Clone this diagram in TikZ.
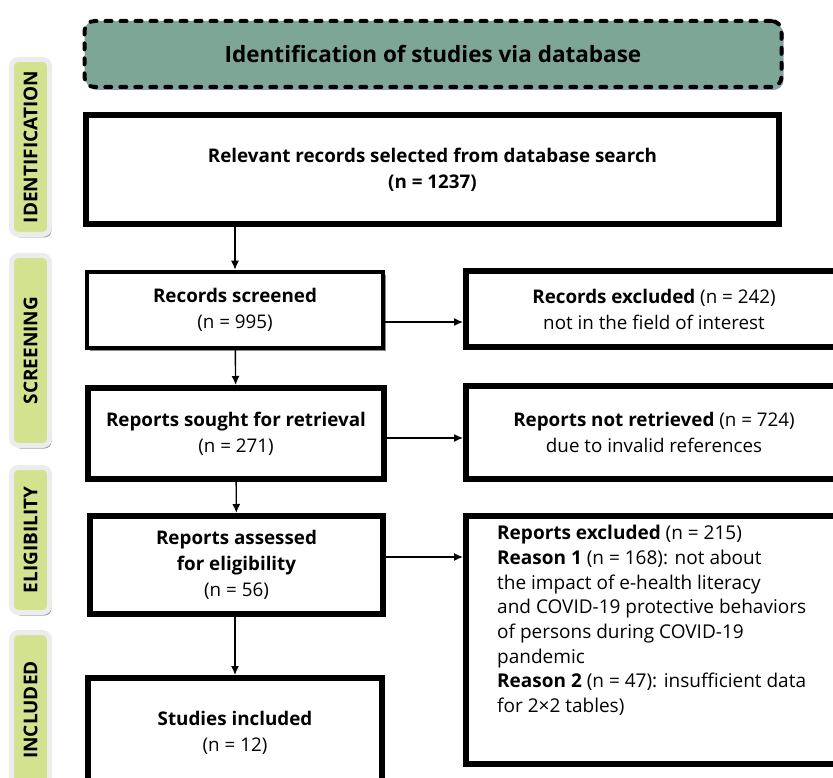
\documentclass[tikz,border=0pt]{standalone}
\usepackage{fontspec}
\usepackage{graphicx}
\setmainfont{Open Sans}
\usetikzlibrary{arrows.meta,shadows}

\definecolor{headgreen}{RGB}{125,166,151}
\definecolor{phasegreen}{RGB}{211,226,143}
\definecolor{phaseedge}{RGB}{236,236,236}
\definecolor{slate}{RGB}{140,160,170}

\tikzset{
	flowbox/.style={draw=black, line width=6pt, fill=white, align=center, inner sep=0pt,
		font=\fontsize{18.8}{26}\selectfont,
		drop shadow={shadow xshift=3pt, shadow yshift=-3pt, fill=black!45, opacity=1}},
	headbox/.style={draw=black, fill=headgreen, line width=4pt, line cap=round,
		dash pattern=on 6pt off 9pt, rounded corners=10pt,
		font=\fontsize{22.5}{25}\selectfont\bfseries,
		drop shadow={shadow xshift=2pt, shadow yshift=-3pt, fill=slate, opacity=1}},
	phase/.style={draw=phaseedge, line width=5pt, fill=phasegreen, rounded corners=7pt,
		minimum width=38pt, font=\fontsize{19}{20}\selectfont\bfseries,
		drop shadow={shadow xshift=2pt, shadow yshift=-3pt, fill=slate, opacity=1}},
	flowarrow/.style={-{Latex[length=9pt,width=8pt]}, line width=1.4pt},
}

\begin{document}
\begin{tikzpicture}[x=1pt, y=-1pt]
	\clip (0,0) rectangle (833,778);

	% phase labels on the left
	\node[phase, minimum height=175pt] (pident) at (30.5,147) {\rotatebox{90}{IDENTIFICATION}};
	\node[phase, minimum height=190pt] (pscreen) at (30.5,350.5) {\rotatebox{90}{SCREENING}};
	\node[phase, minimum height=145pt] (pelig) at (30.5,540) {\rotatebox{90}{ELIGIBILITY}};
	\node[phase, minimum height=155pt] (pincl) at (30.5,710) {\rotatebox{90}{INCLUDED}};

	% header
	\node[headbox, minimum width=697pt, minimum height=66pt] (head) at (433,54) {Identification of studies via database};

	% main column
	\node[flowbox, minimum width=693pt, minimum height=109pt] (found) at (432.5,169.5)
		{\textbf{Relevant records selected from database search}\\\textbf{(n = 1237)}};
	\node[flowbox, line width=4.5pt, minimum width=296pt, minimum height=76pt] (screened) at (235,310)
		{\textbf{Records screened}\\(n = 995)};
	\node[flowbox, minimum width=296pt, minimum height=91pt] (sought) at (236,433.5)
		{\textbf{Reports sought for retrieval}\\(n = 271)};
	\node[flowbox, minimum width=293pt, minimum height=98pt] (assessed) at (236.5,565)
		{\textbf{Reports assessed}\\\textbf{for eligibility}\\(n = 56)};
	\node[flowbox, minimum width=294pt, minimum height=109pt] (included) at (235,732.5)
		{\textbf{Studies included}\\(n = 12)};

	% excluded column
	\node[flowbox, minimum width=376pt, minimum height=76pt] (recexcl) at (654,309)
		{\textbf{Records excluded} (n = 242)\\not in the field of interest};
	\node[flowbox, minimum width=376pt, minimum height=93pt] (notret) at (654,432.5)
		{\textbf{Reports not retrieved} (n = 724)\\due to invalid references};
	\node[flowbox, minimum width=376pt, minimum height=248pt] (repexcl) at (654,640) {};
	\node[anchor=north west, align=left, inner sep=0pt, font=\fontsize{19}{24.7}\selectfont] (reasons) at (497,525)
		{\textbf{Reports excluded} (n = 215)\\
		\textbf{Reason 1} (n = 168): not about\\
		the impact of e-health literacy\\
		and COVID-19 protective behaviors\\
		of persons during COVID-19\\
		pandemic\\
		\textbf{Reason 2} (n = 47): insufficient data\\
		for 2×2 tables)};

	% connectors
	\draw[flowarrow] (found.south -| screened.north) -- (screened.north);
	\draw[flowarrow] (screened) -- (sought);
	\draw[flowarrow] (sought) -- (assessed);
	\draw[flowarrow] (assessed.south -| included.north) -- (included.north);
	\draw[flowarrow] ([yshift=-12pt]screened.east) -- ([yshift=-12pt]screened.east -| recexcl.west);
	\draw[flowarrow] ([yshift=-4.5pt]sought.east) -- ([yshift=-4.5pt]sought.east -| notret.west);
	\draw[flowarrow] ([yshift=8pt]assessed.east) -- ([yshift=8pt]assessed.east -| repexcl.west);
\end{tikzpicture}
\end{document}
